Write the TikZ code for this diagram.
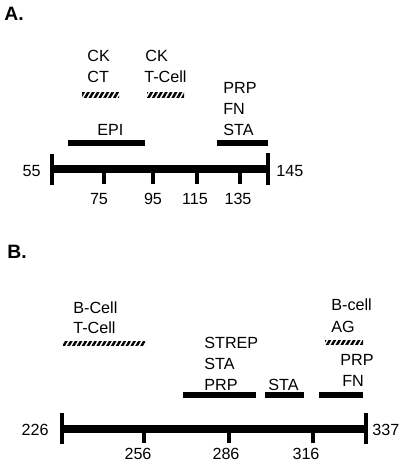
\documentclass[tikz,border=0pt]{standalone}
\usepackage{fontspec}
\setmainfont{Liberation Sans}
\usetikzlibrary{patterns.meta}

\begin{document}
\begin{tikzpicture}[
  x=0.02cm,
  y=-0.02cm,
  axis/.style={
    line width=5.1pt,
  },
  endcap/.style={
    line width=2.3pt,
  },
  tick/.style={
    line width=2.3pt,
  },
  region/.style={
    line width=3.4pt,
  },
  hatch/.style={
    pattern={Lines[angle=60,distance=2.4pt,line width=1.4pt]},
  },
  lbl/.style={
    font=\fontsize{9.2}{12.2}\selectfont,
    align=left,
    anchor=base west,
    inner sep=0pt,
  },
  num/.style={
    font=\fontsize{9.2}{11}\selectfont,
    inner sep=0pt,
  },
  panel/.style={
    font=\fontsize{11}{13}\selectfont\bfseries,
    anchor=west,
    inner sep=0pt,
  },
]
\useasboundingbox (0,0) rectangle (400,473);

% panel A
\node[panel] (titleA) at (4,14) {A.};
\coordinate (a55) at (52,169);
\coordinate (a145) at (268,169);
\draw[axis] (a55) -- (a145);
\draw[endcap] (52,154) -- (52,185);
\draw[endcap] (268,153) -- (268,185);
\foreach \x in {104,153,197,240}
  \draw[tick] (\x,169) -- (\x,184);
\node[num,anchor=east] (n55) at (41,171) {55};
\node[num,anchor=west] (n145) at (276,171) {145};
\node[num] (n75) at (99,199) {75};
\node[num] (n95) at (153,199) {95};
\node[num] (n115) at (195,199) {115};
\node[num] (n135) at (238,199) {135};

\draw[region] (68,143) -- (145,143);
\draw[region] (217,143) -- (268,143);
\node[lbl] (epi) at (97,135) {EPI};
\node[lbl] (prp) at (223,93) {PRP};
\node[lbl] (fn) at (223,114) {FN};
\node[lbl] (sta) at (223,135) {STA};

\fill[hatch] (82,93) rectangle (119,97.5);
\fill[hatch] (147,93) rectangle (184,97.5);
\node[lbl] (ck1) at (87,62) {CK};
\node[lbl] (ct) at (87,83) {CT};
\node[lbl] (ck2) at (145,62) {CK};
\node[lbl] (tcell1) at (144,83) {T-Cell};

% panel B
\node[panel] (titleB) at (7,252) {B.};
\coordinate (b226) at (62,429);
\coordinate (b337) at (366,429);
\draw[axis] (b226) -- (b337);
\draw[endcap] (62,413) -- (62,444);
\draw[endcap] (366,413) -- (366,444);
\foreach \x in {144,229,313}
  \draw[tick] (\x,429) -- (\x,443);
\node[num,anchor=east] (n226) at (49,430) {226};
\node[num,anchor=west] (n337) at (372,430) {337};
\node[num] (n256) at (138,454) {256};
\node[num] (n286) at (226,454) {286};
\node[num] (n316) at (306,454) {316};

\draw[region] (183,395) -- (256,395);
\draw[region] (265,395) -- (304,395);
\draw[region] (319,395) -- (363,395);
\node[lbl] (strep) at (204,348) {STREP};
\node[lbl] (sta1) at (204,369) {STA};
\node[lbl] (prp1) at (204,390) {PRP};
\node[lbl] (sta2) at (268,390) {STA};
\node[lbl] (prp2) at (340,365) {PRP};
\node[lbl] (fn2) at (342,386) {FN};

\fill[hatch] (63,341) rectangle (145,345.5);
\fill[hatch] (325,340) rectangle (363,344.5);
\node[lbl] (bcell1) at (73,313) {B-Cell};
\node[lbl] (tcell2) at (73,333) {T-Cell};
\node[lbl] (bcell2) at (331,310) {B-cell};
\node[lbl] (ag) at (331,332) {AG};
\end{tikzpicture}
\end{document}
